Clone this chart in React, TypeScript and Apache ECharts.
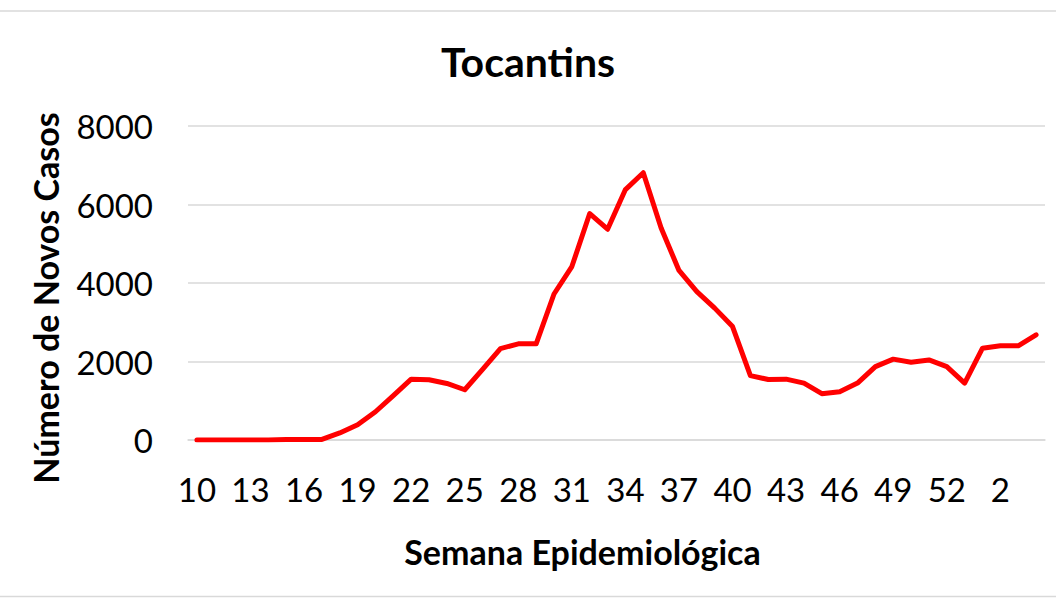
import React, { useEffect, useRef } from "react";
import * as echarts from "echarts";

const weeks: string[] = [
  "10", "11", "12", "13", "14", "15", "16", "17", "18", "19",
  "20", "21", "22", "23", "24", "25", "26", "27", "28", "29",
  "30", "31", "32", "33", "34", "35", "36", "37", "38", "39",
  "40", "41", "42", "43", "44", "45", "46", "47", "48", "49",
  "50", "51", "52", "53", "1", "2", "3", "4",
];

const newCases: number[] = [
  0, 0, 0, 0, 0, 10, 10, 15, 180, 390,
  720, 1130, 1550, 1535, 1440, 1280, 1800, 2330, 2450, 2450,
  3720, 4420, 5770, 5370, 6380, 6810, 5400, 4320, 3780, 3360,
  2890, 1640, 1540, 1550, 1450, 1180, 1230, 1450, 1870, 2060,
  1980, 2040, 1870, 1450, 2340, 2400, 2400, 2680,
];

const yTicks = { min: 0, max: 8000, interval: 2000 };

const titleText = "Tocantins";
const xName = "Semana Epidemiológica";
const yName = "Número de Novos Casos";

const FONT = "Lato, 'Open Sans', sans-serif";

export default function App() {
  const ref = useRef<HTMLDivElement>(null);

  useEffect(() => {
    if (!ref.current) return;
    const chart = echarts.init(ref.current, undefined, { renderer: "svg" });
    chart.setOption({
      animation: false,
      backgroundColor: "#ffffff",
      textStyle: { fontFamily: FONT },
      title: {
        text: titleText,
        left: "center",
        top: 36,
        textStyle: { fontFamily: FONT, fontSize: 41, fontWeight: "bold", color: "#000" },
      },
      grid: { left: 188, right: 11, top: 126, bottom: 158, containLabel: false },
      xAxis: {
        type: "category",
        data: weeks,
        boundaryGap: true,
        name: xName,
        nameLocation: "middle",
        nameGap: 94,
        nameTextStyle: {
          fontFamily: FONT,
          fontSize: 34,
          fontWeight: "bold",
          color: "#000",
          padding: [0, 68, 0, 0],
        },
        axisLine: { show: true, lineStyle: { color: "#d9d9d9", width: 1.5 } },
        axisTick: { show: false },
        axisLabel: {
          interval: 2,
          margin: 32,
          fontFamily: FONT,
          fontSize: 33,
          color: "#000",
        },
        splitLine: { show: false },
      },
      yAxis: {
        type: "value",
        min: yTicks.min,
        max: yTicks.max,
        interval: yTicks.interval,
        name: yName,
        nameLocation: "middle",
        nameGap: 126,
        nameTextStyle: {
          fontFamily: FONT,
          fontSize: 34,
          fontWeight: "bold",
          color: "#000",
          padding: [0, 30, 0, 0],
        },
        axisLine: { show: false },
        axisTick: { show: false },
        axisLabel: {
          margin: 35,
          fontFamily: FONT,
          fontSize: 33,
          color: "#000",
          formatter: (v: number) => String(v),
        },
        splitLine: { show: true, lineStyle: { color: "#d9d9d9", width: 1.5 } },
      },
      series: [
        {
          type: "line",
          data: newCases,
          showSymbol: false,
          symbol: "none",
          lineStyle: { color: "#ff0000", width: 5, cap: "round", join: "round" },
          itemStyle: { color: "#ff0000" },
        },
      ],
      graphic: [
        {
          type: "line",
          shape: { x1: 0, y1: 11, x2: 1056, y2: 11 },
          style: { stroke: "#d9d9d9", lineWidth: 1.5 },
          silent: true,
        },
        {
          type: "line",
          shape: { x1: 0, y1: 596.5, x2: 1056, y2: 596.5 },
          style: { stroke: "#d9d9d9", lineWidth: 1.5 },
          silent: true,
        },
      ],
    });
    return () => chart.dispose();
  }, []);

  return (
    <div
      ref={ref}
      style={{ position: "fixed", left: 0, top: 0, width: 1056, height: 598, background: "#fff" }}
    />
  );
}
